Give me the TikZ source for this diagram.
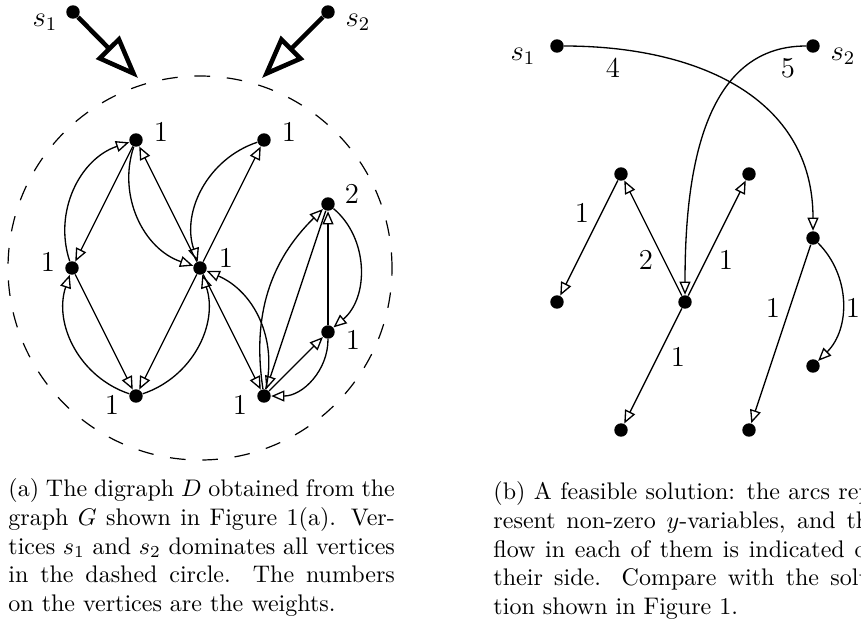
\documentclass[tikz,border=0pt]{standalone}
\usetikzlibrary{arrows.meta}
\begin{document}
\begin{tikzpicture}[x=0.41667pt,y=0.41667pt,
  dot/.style={circle,fill=black,inner sep=0pt,minimum size=5.6pt},
  lbl/.style={font=\large,inner sep=0pt},
  arc/.style={line width=0.55pt,-{Triangle[open,length=5.5pt,width=4.6pt]}},
  bigarrow/.style={line width=1.9pt,-{Triangle[open,length=18pt,width=13.5pt]}},
  circ/.style={dash pattern=on 6.5pt off 7pt,line width=0.5pt},
  capt/.style={inner sep=0pt,anchor=north west,text width=161pt,align=justify}
]
\useasboundingbox (0,0) rectangle (861,-625);
\clip (0,0) rectangle (861,-625);

% ---------- left graph ----------
\node[dot] (ls1) at (73,-12) {};
\node[dot] (ls2) at (328,-12) {};
\node[dot] (A) at (136,-140) {};
\node[dot] (B) at (264,-140) {};
\node[dot] (C) at (328,-204) {};
\node[dot] (D) at (72,-268) {};
\node[dot] (E) at (200,-268) {};
\node[dot] (F) at (328,-332) {};
\node[dot] (G) at (136,-396) {};
\node[dot] (H) at (264,-396) {};

\draw[circ] (E.center) circle [radius=192];

\coordinate (t1) at (138,-78);
\coordinate (t2) at (262,-78);
\draw[bigarrow] (ls1) -- (t1);
\draw[bigarrow] (ls2) -- (t2);

\node[lbl] (ls1l) at (45,-22) {$s_1$};
\node[lbl] (ls2l) at (358,-22) {$s_2$};
\node[lbl] (Al) at (161,-132) {1};
\node[lbl] (Bl) at (289,-132) {1};
\node[lbl] (Cl) at (352,-194) {2};
\node[lbl] (Dl) at (48,-262) {1};
\node[lbl] (El) at (226,-258) {1};
\node[lbl] (Fl) at (353,-340) {1};
\node[lbl] (Gl) at (112,-405) {1};
\node[lbl] (Hl) at (240,-405) {1};

\draw[arc] (A) -- (D);
\draw[arc] (D) to[bend left=45] (A);
\draw[arc] (E) -- (A);
\draw[arc] (A) to[bend right=45] (E);
\draw[arc] (E) -- (B);
\draw[arc] (B) to[bend right=45] (E);
\draw[arc] (D) -- (G);
\draw[arc] (G) to[bend left=45] (D);
\draw[arc] (E) -- (G);
\draw[arc] (G) to[bend right=45] (E);
\draw[arc] (E) -- (H);
\draw[arc] (H) to[bend right=40] (E);
\draw[arc] (C) -- (H);
\draw[arc] (H) to[bend left=27] (C);
\draw[arc] (F) -- (C);
\draw[arc] (C) to[bend left=50] (F);
\draw[arc] (H) -- (F);
\draw[arc] (F) to[bend left=45] (H);

% ---------- right graph ----------
\node[dot] (rs1) at (557,-46) {};
\node[dot] (rs2) at (813,-46) {};
\node[dot] (P) at (621,-174) {};
\node[dot] (Q) at (749,-174) {};
\node[dot] (R) at (813,-238) {};
\node[dot] (S) at (557,-302) {};
\node[dot] (T) at (685,-302) {};
\node[dot] (U) at (813,-366) {};
\node[dot] (V) at (621,-430) {};
\node[dot] (W) at (749,-430) {};

\node[lbl] (rs1l) at (523,-56) {$s_1$};
\node[lbl] (rs2l) at (843,-56) {$s_2$};

\draw[arc] (rs1) to[out=0,in=90,looseness=1.1] (R);
\draw[arc] (rs2) to[out=180,in=90] (T);
\draw[arc] (T) -- (P);
\draw[arc] (T) -- (Q);
\draw[arc] (P) -- (S);
\draw[arc] (T) -- (V);
\draw[arc] (R) -- (W);
\draw[arc] (R) to[bend left=45] (U);

\node[lbl] (f4) at (613,-68) {4};
\node[lbl] (f5) at (788,-68) {5};
\node[lbl] (fPS) at (582,-213) {1};
\node[lbl] (fTP) at (646,-260) {2};
\node[lbl] (fTQ) at (726,-260) {1};
\node[lbl] (fTV) at (678,-357) {1};
\node[lbl] (fRW) at (773,-308) {1};
\node[lbl] (fRU) at (853,-308) {1};

% ---------- captions ----------
\node[capt] (capa) at (8,-478) {(a) The digraph $D$ obtained from the\linebreak
graph $G$ shown in Figure 1(a). Ver-\linebreak
tices $s_1$ and $s_2$ dominates all vertices\linebreak
in the dashed circle. The numbers\linebreak
on the vertices are the weights.};
\node[capt] (capb) at (493,-481) {(b) A feasible solution: the arcs rep-\linebreak
resent non-zero $y$-variables, and the\linebreak
flow in each of them is indicated on\linebreak
their side. Compare with the solu-\linebreak
tion shown in Figure 1.};
\end{tikzpicture}
\end{document}
